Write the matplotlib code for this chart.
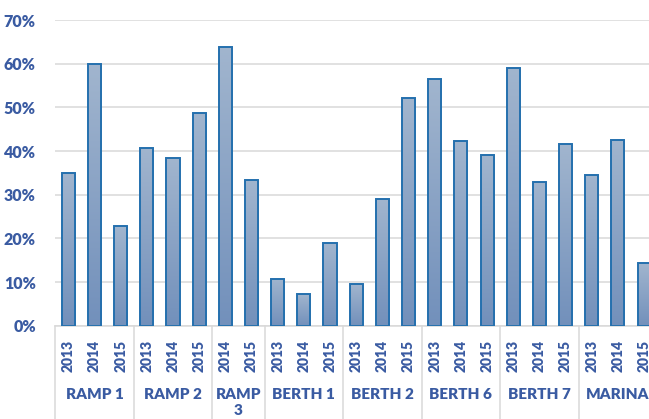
import numpy as np
import matplotlib.pyplot as plt
from matplotlib.patches import Rectangle
from matplotlib.colors import LinearSegmentedColormap

# sites and the years sampled at each one
groups = ["RAMP 1", "RAMP 2", "RAMP\n3", "BERTH 1", "BERTH 2", "BERTH 6", "BERTH 7", "MARINA"]
group_years = [
    ["2013", "2014", "2015"],
    ["2013", "2014", "2015"],
    ["2014", "2015"],
    ["2013", "2014", "2015"],
    ["2013", "2014", "2015"],
    ["2013", "2014", "2015"],
    ["2013", "2014", "2015"],
    ["2013", "2014", "2015"],
]
# percentages, in the same order as the years above
values = [
    34.9, 60.0, 22.8,
    40.7, 38.4, 48.6,
    63.8, 33.3,
    10.8, 7.3, 19.0,
    9.5, 28.9, 52.1,
    56.5, 42.3, 39.1,
    59.0, 33.0, 41.6,
    34.6, 42.6, 14.3,
]
yticks = [0, 10, 20, 30, 40, 50, 60, 70]

txt = "#3a5ba2"
edge = "#2470ae"
grid_col = "#d9d9d9"
plt.rcParams["font.family"] = ["Lato", "DejaVu Sans"]

fig = plt.figure(figsize=(6.49, 4.19), dpi=100)
ax = fig.add_axes([55.2 / 649, 93.3 / 419, 602 / 649, 305.7 / 419])

labels = [y for ys in group_years for y in ys]
x = np.arange(len(labels))
bars = ax.bar(x, values, width=0.5, facecolor="none", edgecolor=edge, linewidth=1.4, zorder=3)

# vertical gradient inside each bar
grad = np.linspace(0, 1, 256).reshape(-1, 1)
cmap = LinearSegmentedColormap.from_list("bar", ["#7290bb", "#a1b5ce"])
for b in bars:
    x0, w, h = b.get_x(), b.get_width(), b.get_height()
    im = ax.imshow(grad, cmap=cmap, origin="lower", aspect="auto",
                   extent=[x0, x0 + w, 0, h], zorder=2)
    im.set_clip_path(Rectangle((x0, 0), w, h, transform=ax.transData))

ax.set_xlim(-0.5, len(labels) - 0.5)
ax.set_ylim(0, 70)
ax.set_yticks(yticks)
ax.set_yticklabels([f"{t}%" for t in yticks], fontsize=11.5, fontweight="heavy", color=txt)
ax.yaxis.grid(True, color=grid_col, linewidth=1.1, zorder=0)
ax.tick_params(axis="y", length=0, pad=14)

ax.set_xticks(x)
ax.set_xticklabels(labels, rotation=90, fontsize=10, fontweight="heavy", color=txt)
ax.tick_params(axis="x", length=0, pad=10)

for s in ["top", "right", "left"]:
    ax.spines[s].set_visible(False)
ax.spines["bottom"].set_color(grid_col)
ax.spines["bottom"].set_linewidth(1.1)

# group separators and site names under the years
xt = ax.get_xaxis_transform()
pos = -0.5
for g, ys in zip(groups, group_years):
    ax.plot([pos, pos], [0, -0.31], transform=xt, color=grid_col, linewidth=1.1, clip_on=False)
    mid = pos + len(ys) / 2
    ax.text(mid, -0.203, g, transform=xt, ha="center", va="top",
            fontsize=11, fontweight="heavy", color=txt, linespacing=1.3)
    pos += len(ys)
ax.plot([pos, pos], [0, -0.31], transform=xt, color=grid_col, linewidth=1.1, clip_on=False)

fig.savefig("out.png", dpi=100)
